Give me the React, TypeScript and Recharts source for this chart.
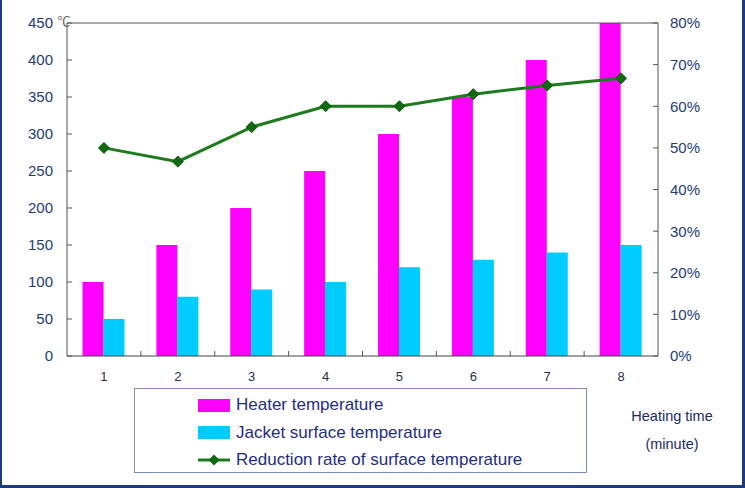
import React from 'react';
import { ComposedChart, Bar, Line, XAxis, YAxis, Legend, ReferenceLine } from 'recharts';

const minutes = ['1', '2', '3', '4', '5', '6', '7', '8'];
const heaterTemp = [100, 150, 200, 250, 300, 350, 400, 450];
const jacketTemp = [50, 80, 90, 100, 120, 130, 140, 150];
const reductionRate = [0.5, 0.467, 0.55, 0.6, 0.6, 0.629, 0.65, 0.667];
const tempTicks = [0, 50, 100, 150, 200, 250, 300, 350, 400, 450];
const rateTicks = [0, 0.1, 0.2, 0.3, 0.4, 0.5, 0.6, 0.7, 0.8];

const data = minutes.map((minute, i) => ({
  minute,
  heater: heaterTemp[i],
  jacket: jacketTemp[i],
  rate: reductionRate[i],
}));

const W = 745;
const H = 488;
const PLOT_LEFT = 67;
const PLOT_RIGHT = 658;
const PLOT_TOP = 23;
const PLOT_BOTTOM = 356;
const HALF_BAND = (PLOT_RIGHT - PLOT_LEFT) / minutes.length / 2;

const FONT = '"Liberation Sans", Arial, sans-serif';
const NAVY = '#233C7B';
const AXIS = '#555';
const GREEN = '#1D7A1D';

function MinuteTick({ x, y, payload, index }: any) {
  return (
    <g>
      <text x={x} y={y + 25} textAnchor="middle" fontSize={13} fill="#27304a" fontFamily={FONT}>
        {payload.value}
      </text>
      {index < minutes.length - 1 && (
        <line x1={x + HALF_BAND} x2={x + HALF_BAND} y1={y} y2={y - 5} stroke={AXIS} />
      )}
    </g>
  );
}

function TempTick({ x, y, payload }: any) {
  return (
    <g>
      <line x1={x} x2={x + 5} y1={y} y2={y} stroke={AXIS} />
      <text x={x - 14} y={y} dy="0.36em" textAnchor="end" fontSize={15} fill={NAVY} fontFamily={FONT}>
        {payload.value}
      </text>
    </g>
  );
}

function RateTick({ x, y, payload }: any) {
  return (
    <g>
      <line x1={x - 5} x2={x} y1={y} y2={y} stroke={AXIS} />
      <text x={x + 12} y={y} dy="0.36em" textAnchor="start" fontSize={15} fill={NAVY} fontFamily={FONT}>
        {`${Math.round(payload.value * 100)}%`}
      </text>
    </g>
  );
}

function Diamond({ cx, cy }: any) {
  if (cx == null || cy == null) return null;
  const r = 5.5;
  return (
    <polygon
      points={`${cx},${cy - r} ${cx + r},${cy} ${cx},${cy + r} ${cx - r},${cy}`}
      fill="#0f6a0f"
      stroke="#0f5a0f"
      strokeWidth={1}
    />
  );
}

function LegendBox({ payload }: any) {
  return (
    <div
      style={{
        boxSizing: 'border-box',
        width: 453,
        height: 85,
        border: '1.5px solid #7C8CC0',
        background: '#fff',
        position: 'relative',
        fontFamily: FONT,
      }}
    >
      {(payload || []).map((item: any, i: number) => (
        <div
          key={item.value}
          style={{
            position: 'absolute',
            left: 63,
            top: 5 + i * 27.5,
            height: 22,
            display: 'flex',
            alignItems: 'center',
            whiteSpace: 'nowrap',
          }}
        >
          {item.type === 'line' ? (
            <svg width={32} height={14}>
              <line x1={0} x2={32} y1={7} y2={7} stroke={GREEN} strokeWidth={3} />
              <polygon points="16,1.5 21.5,7 16,12.5 10.5,7" fill="#0f6a0f" />
            </svg>
          ) : (
            <div style={{ width: 32, height: 13, background: item.color }} />
          )}
          <span style={{ marginLeft: 6, fontSize: 17, color: '#1E2E86' }}>{item.value}</span>
        </div>
      ))}
    </div>
  );
}

export default function App() {
  return (
    <div style={{ position: 'absolute', left: 0, top: 0, width: W, height: H, background: '#fff' }}>
      <ComposedChart
        width={W}
        height={H}
        data={data}
        margin={{ top: PLOT_TOP, right: 0, left: 0, bottom: H - PLOT_BOTTOM - 30 }}
        barCategoryGap="21%"
        barGap={0}
      >
        <XAxis
          dataKey="minute"
          height={30}
          tickLine={false}
          tickSize={0}
          tickMargin={0}
          stroke="#444"
          tick={<MinuteTick />}
          interval={0}
        />
        <YAxis
          yAxisId="left"
          width={PLOT_LEFT}
          domain={[0, 450]}
          ticks={tempTicks}
          tickLine={false}
          tickSize={0}
          tickMargin={0}
          stroke={AXIS}
          tick={<TempTick />}
          interval={0}
          label={{
            content: ({ viewBox }: any) => (
              <text
                x={viewBox.x + viewBox.width - 3}
                y={viewBox.y + 3}
                textAnchor="middle"
                fontSize={13}
                fill="#666"
                fontFamily='"Noto Sans CJK SC", sans-serif'
              >
                ℃
              </text>
            ),
          }}
        />
        <YAxis
          yAxisId="right"
          orientation="right"
          width={W - PLOT_RIGHT}
          domain={[0, 0.8]}
          ticks={rateTicks}
          tickLine={false}
          tickSize={0}
          tickMargin={0}
          stroke={AXIS}
          tick={<RateTick />}
          interval={0}
        />
        <ReferenceLine yAxisId="left" y={450} stroke={AXIS} />
        <Bar yAxisId="left" dataKey="heater" name="Heater temperature" fill="#FF00FF" isAnimationActive={false} />
        <Bar yAxisId="left" dataKey="jacket" name="Jacket surface temperature" fill="#00CCFF" isAnimationActive={false} />
        <Line
          yAxisId="right"
          dataKey="rate"
          name="Reduction rate of surface temperature"
          stroke={GREEN}
          strokeWidth={3}
          dot={<Diamond />}
          activeDot={false}
          isAnimationActive={false}
        />
        <Legend
          layout="vertical"
          align="center"
          verticalAlign="middle"
          wrapperStyle={{ left: 134, top: 388, width: 453, height: 85 }}
          content={<LegendBox />}
        />
      </ComposedChart>
      <div
        style={{
          position: 'absolute',
          left: 612,
          top: 402,
          width: 120,
          textAlign: 'center',
          fontFamily: FONT,
          fontSize: 14.5,
          lineHeight: '28px',
          color: '#1A2A6A',
        }}
      >
        Heating time
        <br />
        (minute)
      </div>
      <div
        style={{
          position: 'absolute',
          left: 0,
          top: 0,
          width: W,
          height: H,
          boxSizing: 'border-box',
          borderLeft: '2px solid #1B3A7A',
          borderRight: '3px solid #1B3A7A',
          borderBottom: '3px solid #1B3A7A',
          pointerEvents: 'none',
        }}
      />
    </div>
  );
}
